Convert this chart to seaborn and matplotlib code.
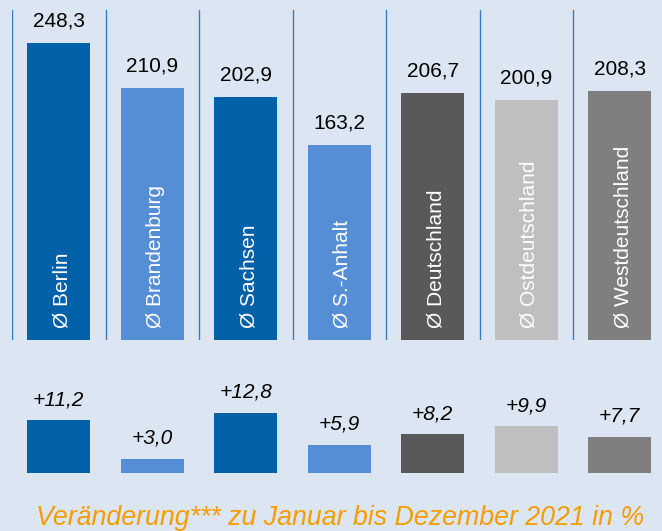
import matplotlib
matplotlib.use("Agg")
import matplotlib.pyplot as plt
import seaborn as sns
import pandas as pd

# Data
regions = ["Berlin", "Brandenburg", "Sachsen", "S.-Anhalt",
           "Deutschland", "Ostdeutschland", "Westdeutschland"]
averages = [248.3, 210.9, 202.9, 163.2, 206.7, 200.9, 208.3]
changes = [11.2, 3.0, 12.8, 5.9, 8.2, 9.9, 7.7]
bar_colors = ["#0060a8", "#558ed5", "#0060a8", "#558ed5",
              "#595959", "#bfbfbf", "#7f7f7f"]
footer = "Veränderung*** zu Januar bis Dezember 2021 in %"

bg = "#dce6f2"
sns.set_style("white")
plt.rcParams["font.family"] = ["Liberation Sans", "DejaVu Sans"]

df = pd.DataFrame({"region": regions, "avg": averages, "chg": changes})
palette = dict(zip(regions, bar_colors))

W, H = 662, 531
fig = plt.figure(figsize=(W / 100, H / 100), dpi=100)
fig.patch.set_facecolor(bg)

def px_axes(left, top, right, bottom):
    return fig.add_axes([left / W, 1 - bottom / H, (right - left) / W, (bottom - top) / H])

xmax = (W - 12) / 93.5 - 0.5

# Top panel: averages
ax1 = px_axes(12, 10, W, 340)
sns.barplot(data=df, x="region", y="avg", hue="region", palette=palette,
            width=0.674, saturation=1, linewidth=0, legend=False, ax=ax1)
ax1.set_xlim(-0.5, xmax)
ax1.set_ylim(0, 330 / 1.196)
for i in range(len(regions)):
    ax1.axvline(i - 0.5, color="#3a7cc0", lw=1.0)
for i, (r, v) in enumerate(zip(regions, averages)):
    ax1.annotate(f"{v:.1f}".replace(".", ","), (i, v), xytext=(0, 9),
                 textcoords="offset points", ha="center", va="bottom",
                 fontsize=15, color="black")
    ax1.text(i + 0.03, 10, f"Ø {r}", rotation=90, ha="center", va="bottom",
             fontsize=15, color="white")

# Bottom panel: changes
ax2 = px_axes(12, 379, W, 472.7)
sns.barplot(data=df, x="region", y="chg", hue="region", palette=palette,
            width=0.674, saturation=1, linewidth=0, legend=False, ax=ax2)
ax2.set_xlim(-0.5, xmax)
ax2.set_ylim(0, 93.7 / 4.68)
for i, v in enumerate(changes):
    ax2.annotate(f"+{v:.1f}".replace(".", ","), (i, v), xytext=(0, 8),
                 textcoords="offset points", ha="center", va="bottom",
                 fontsize=15, style="italic", color="black")

for ax in (ax1, ax2):
    ax.set_facecolor(bg)
    ax.set_xlabel("")
    ax.set_ylabel("")
    ax.set_xticks([])
    ax.set_yticks([])
    for s in ax.spines.values():
        s.set_visible(False)

fig.text(340 / W, 1 - 518 / H, footer, ha="center", va="center",
         fontsize=19.3, style="italic", color="#f59c00")

fig.savefig("out.png", dpi=100, facecolor=bg)
